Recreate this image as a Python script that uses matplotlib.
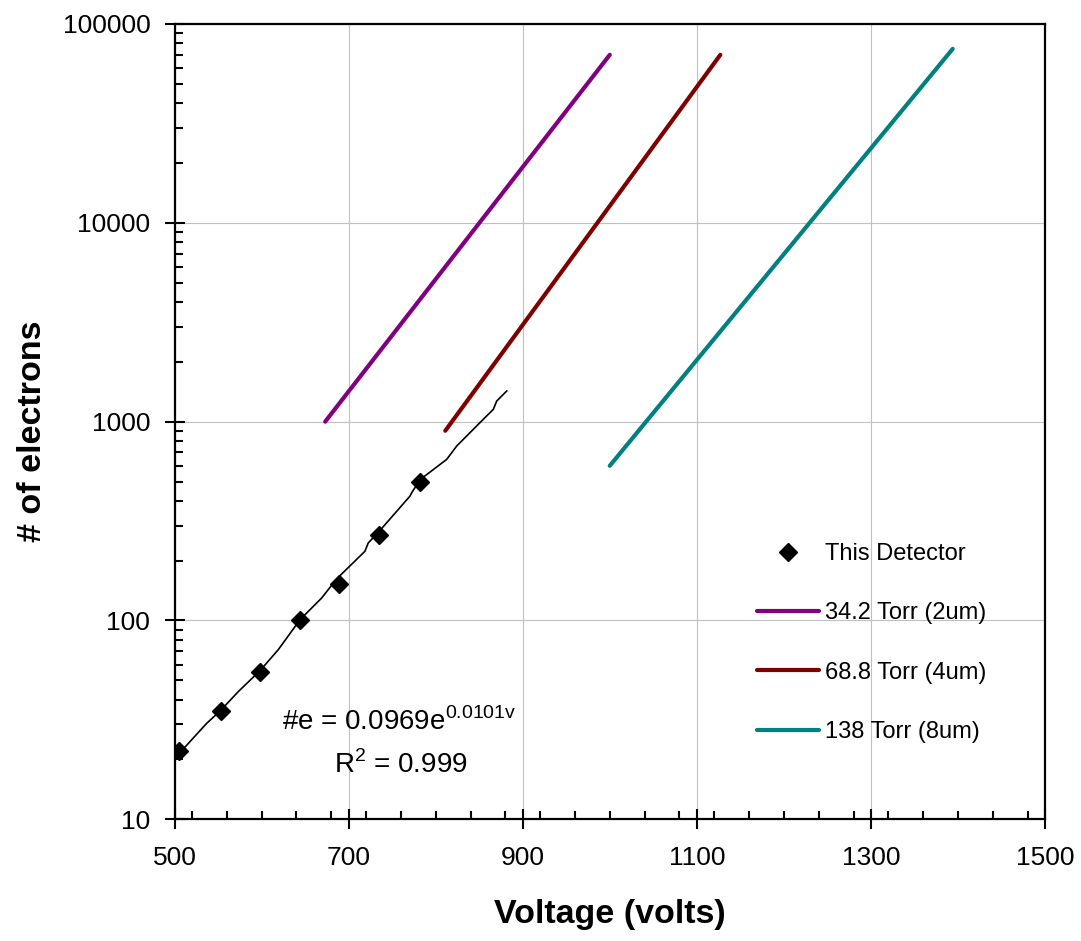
import matplotlib
matplotlib.use("Agg")
import matplotlib.pyplot as plt
from matplotlib.ticker import FixedLocator, LogLocator, MultipleLocator, FuncFormatter, NullFormatter

plt.rcParams['font.family'] = ['Liberation Sans', 'DejaVu Sans']
plt.rcParams['mathtext.fontset'] = 'custom'
plt.rcParams['mathtext.rm'] = 'Liberation Sans'

# Measured gain of this detector
det_voltage = [505, 553, 598, 644, 689, 735, 782]
det_electrons = [22, 35, 55, 100, 153, 268, 496]

# Exponential trend line through the measurements
fit_voltage = [500.5, 517.7, 536.9, 553.0, 573.2, 598.1, 619.1, 644.1, 669.0, 686.2,
               718.7, 722.5, 734.8, 770.4, 772.4, 782.3, 812.6, 824.1, 854.7, 866.2,
               870.1, 881.6]
fit_electrons = [20.3, 24.6, 30.4, 35.3, 43.9, 55.9, 71.3, 100.9, 129.8, 161.9,
                 222.9, 245.5, 280, 422, 439, 512, 646, 754, 1028, 1153,
                 1270, 1426]

# Reference gain curves for three gas pressures
torr34_voltage = [673, 1000]
torr34_electrons = [1000, 70000]
torr69_voltage = [811, 1127]
torr69_electrons = [900, 70000]
torr138_voltage = [1000, 1394]
torr138_electrons = [600, 75000]

labels = ['This Detector', '34.2 Torr (2um)', '68.8 Torr (4um)', '138 Torr (8um)']
x_ticks = [500, 700, 900, 1100, 1300, 1500]
y_ticks = [10, 100, 1000, 10000, 100000]

fig = plt.figure(figsize=(10.81, 9.41), dpi=100)
ax = fig.add_axes([0.1615, 0.1293, 0.8052, 0.8452])

ax.plot(fit_voltage, fit_electrons, color='black', lw=1.2, zorder=3)
det, = ax.plot(det_voltage, det_electrons, ls='none', marker='D', ms=9,
               color='black', zorder=4, label=labels[0])
l1, = ax.plot(torr34_voltage, torr34_electrons, color='#800080', lw=3,
              solid_capstyle='round', label=labels[1])
l2, = ax.plot(torr69_voltage, torr69_electrons, color='#800000', lw=3,
              solid_capstyle='round', label=labels[2])
l3, = ax.plot(torr138_voltage, torr138_electrons, color='#008080', lw=3,
              solid_capstyle='round', label=labels[3])

ax.set_yscale('log')
ax.set_xlim(500, 1500)
ax.set_ylim(10, 100000)

ax.xaxis.set_major_locator(FixedLocator(x_ticks))
ax.xaxis.set_minor_locator(MultipleLocator(40))
ax.yaxis.set_major_locator(FixedLocator(y_ticks))
ax.yaxis.set_minor_locator(LogLocator(base=10, subs=range(2, 10)))
ax.yaxis.set_major_formatter(FuncFormatter(lambda v, p: f'{int(round(v))}'))
ax.yaxis.set_minor_formatter(NullFormatter())

ax.tick_params(which='major', direction='inout', length=14, width=1.5,
               labelsize=19, color='black')
ax.tick_params(axis='x', which='major', pad=12)
ax.tick_params(axis='y', which='major', pad=10.5)
ax.tick_params(which='minor', direction='in', length=5.5, width=1.5)

for s in ax.spines.values():
    s.set_linewidth(1.6)
    s.set_color('black')

ax.grid(True, which='major', color='#c0c0c0', lw=0.8)
ax.set_axisbelow(True)

ax.set_xlabel('Voltage (volts)', fontsize=24.5, fontweight='bold')
ax.set_ylabel('# of electrons', fontsize=24.5, fontweight='bold')
ax.xaxis.set_label_coords(0.5, -0.1)
ax.yaxis.set_label_coords(-0.145, 0.488)

ax.text(0.2578, 0.1123, r'#e = 0.0969e$^{\mathregular{0.0101v}}$', transform=ax.transAxes,
        ha='center', va='baseline', fontsize=20)
ax.text(0.2600, 0.0588, r'R$^{\mathregular{2}}$ = 0.999', transform=ax.transAxes,
        ha='center', va='baseline', fontsize=20)

ax.legend(handles=[det, l1, l2, l3], loc='center left',
          bbox_to_anchor=(0.6805, 0.3168), bbox_transform=fig.transFigure,
          frameon=False, fontsize=17, handlelength=2.63, handletextpad=0.25,
          labelspacing=1.58, borderpad=0.4)

fig.savefig('out.png', dpi=100)
